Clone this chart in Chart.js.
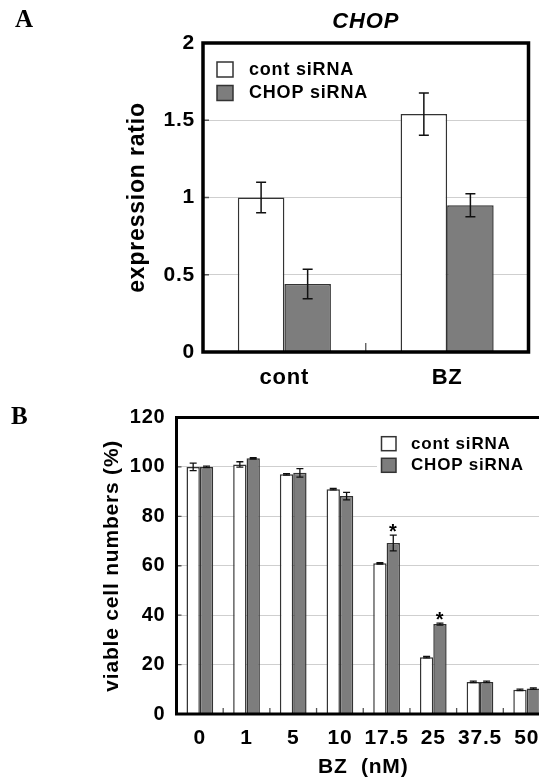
<!DOCTYPE html>
<html><head><meta charset="utf-8">
<script src="https://cdn.jsdelivr.net/npm/chart.js@4/dist/chart.umd.min.js"></script>
<style>
html,body{margin:0;padding:0;background:#fff;overflow:hidden;width:539px;height:777px;position:relative;}
#wrapA{position:absolute;left:0;top:0;width:539px;height:390px;}
#wrapB{position:absolute;left:0;top:390px;width:560px;height:387px;}
.panel{position:absolute;z-index:5;font-family:'Liberation Serif','Times New Roman',serif;font-weight:bold;font-size:25px;line-height:25px;color:#000;}
</style></head><body>
<div id="wrapA"><canvas id="cA" width="539" height="390"></canvas></div>
<div id="wrapB"><canvas id="cB" width="560" height="387"></canvas></div>
<div class="panel" style="left:15px;top:6px">A</div>
<div class="panel" style="left:11px;top:403px">B</div>
<script>
// ---- Data ----
const seriesNames = ['cont siRNA', 'CHOP siRNA'];

const catsA = ['cont', 'BZ'];
const contA = [1.0, 1.54];
const contAErr = [0.098, 0.137];
const chopA = [0.44, 0.95];
const chopAErr = [0.095, 0.075];
const yTicksA = ['0', '0.5', '1', '1.5', '2'];
const titleA = 'CHOP';
const yTitleA = 'expression ratio';

const catsB = ['0', '1', '5', '10', '17.5', '25', '37.5', '50'];
const contB = [100, 101, 97, 91, 61, 23, 13, 9.8];
const contBErr = [1.5, 1.1, 0.3, 0.3, 0.3, 0.3, 0.3, 0.3];
const chopB = [100, 103.5, 97.6, 88.2, 69.2, 36.4, 13, 10.3];
const chopBErr = [0.3, 0.3, 1.7, 1.5, 3.2, 0.4, 0.3, 0.3];
const sigB = ['', '', '', '', '*', '*', '', ''];
const yTicksB = ['0', '20', '40', '60', '80', '100', '120'];
const yTitleB = 'viable cell numbers (%)';
const xTitleB = 'BZ  (nM)';

// ---- Styles ----
const FAM = "'Liberation Sans', Arial, Helvetica, sans-serif";
const WHITE = '#ffffff', GRAY = '#7d7d7d', EDGE = '#333333';

// ---- Plugins ----
const wideText = {
  id: 'wideText',
  beforeUpdate(chart, args, o) { chart.ctx.letterSpacing = o.spacing; },
  beforeDraw(chart, args, o) { chart.ctx.letterSpacing = o.spacing; }
};

const errorBars = {
  id: 'errorBars',
  afterDatasetsDraw(chart, args, o) {
    const ctx = chart.ctx, ys = chart.scales.y;
    chart.data.datasets.forEach((ds, i) => {
      if (!ds.errors) return;
      const meta = chart.getDatasetMeta(i);
      meta.data.forEach((el, j) => {
        const v = ds.data[j], e = ds.errors[j];
        const x = el.x, t = ys.getPixelForValue(v + e), b = ys.getPixelForValue(v - e);
        ctx.save();
        ctx.strokeStyle = '#111'; ctx.lineWidth = o.width;
        ctx.beginPath();
        ctx.moveTo(x, t); ctx.lineTo(x, b);
        ctx.moveTo(x - o.cap / 2, t); ctx.lineTo(x + o.cap / 2, t);
        ctx.moveTo(x - o.cap / 2, b); ctx.lineTo(x + o.cap / 2, b);
        ctx.stroke();
        if (ds.marks && ds.marks[j]) {
          ctx.fillStyle = '#000';
          ctx.font = 'bold ' + o.markSize + 'px ' + FAM;
          ctx.textAlign = 'center'; ctx.textBaseline = 'alphabetic';
          ctx.fillText(ds.marks[j], x, t + o.markOffset);
        }
        ctx.restore();
      });
    });
  }
};

const innerLegend = {
  id: 'innerLegend',
  afterDatasetsDraw(chart, args, o) {
    const ctx = chart.ctx;
    ctx.save();
    if (o.bg) { ctx.fillStyle = '#fff'; ctx.fillRect(o.bg[0], o.bg[1], o.bg[2], o.bg[3]); }
    ctx.font = 'bold ' + o.fontSize + 'px ' + FAM;
    ctx.textAlign = 'left'; ctx.textBaseline = 'middle';
    chart.data.datasets.forEach((ds, i) => {
      const top = o.y + i * o.step;
      ctx.fillStyle = ds.backgroundColor;
      ctx.fillRect(o.x, top, o.bw, o.bh);
      ctx.lineWidth = 1.5; ctx.strokeStyle = EDGE;
      ctx.strokeRect(o.x, top, o.bw, o.bh);
      ctx.fillStyle = '#000';
      ctx.fillText(ds.label, o.tx, top + o.bh / 2 + 0.5);
    });
    ctx.restore();
  }
};

const innerTicks = {
  id: 'innerTicks',
  afterDatasetsDraw(chart, args, o) {
    const ctx = chart.ctx, a = chart.chartArea, xs = chart.scales.x, ys = chart.scales.y;
    ctx.save();
    ctx.strokeStyle = '#555'; ctx.lineWidth = 1.3;
    ctx.beginPath();
    const n = xs.ticks.length;
    for (let k = 1; k < n; k++) {
      const px = (xs.getPixelForTick(k - 1) + xs.getPixelForTick(k)) / 2;
      ctx.moveTo(px, a.bottom); ctx.lineTo(px, a.bottom - o.xLen);
    }
    ys.ticks.forEach((t, k) => {
      const py = ys.getPixelForTick(k);
      ctx.moveTo(a.left, py); ctx.lineTo(a.left + o.yLen, py);
    });
    ctx.stroke();
    ctx.restore();
  }
};

const frame = {
  id: 'frame',
  afterDraw(chart, args, o) {
    const ctx = chart.ctx, a = chart.chartArea;
    ctx.save();
    ctx.lineWidth = o.width; ctx.strokeStyle = '#000';
    ctx.strokeRect(a.left, a.top, a.right - a.left, a.bottom - a.top);
    ctx.restore();
  }
};

Chart.defaults.font.family = FAM;
Chart.defaults.color = '#000';

// ---- Chart A ----
new Chart(document.getElementById('cA'), {
  type: 'bar',
  data: {
    labels: catsA,
    datasets: [
      { label: seriesNames[0], data: contA, errors: contAErr, backgroundColor: WHITE, borderColor: EDGE, borderWidth: 1.5 },
      { label: seriesNames[1], data: chopA, errors: chopAErr, backgroundColor: GRAY, borderColor: EDGE, borderWidth: 1.5 }
    ]
  },
  options: {
    responsive: false, animation: false,
    layout: { padding: { left: 124, right: 10.5, top: 0, bottom: 0 } },
    datasets: { bar: { categoryPercentage: 0.572, barPercentage: 1.0 } },
    scales: {
      x: {
        grid: { display: false }, border: { display: false },
        ticks: { font: { size: 22, weight: 'bold' }, padding: 5, color: '#000' },
        afterFit(s) { s.height = 38; }
      },
      y: {
        min: 0, max: 2,
        grid: { color: '#cfcfcf', lineWidth: 1, drawTicks: false }, border: { display: false },
        ticks: { stepSize: 0.5, font: { size: 21, weight: 'bold' }, padding: 8, color: '#000',
                 callback: (v, i) => yTicksA[i] },
        title: { display: true, text: yTitleA, font: { size: 23, weight: 'bold' }, padding: 0, color: '#000' },
        afterFit(s) { s.width = 79; }
      }
    },
    plugins: {
      legend: { display: false }, tooltip: { enabled: false },
      title: { display: true, text: titleA, fullSize: false, font: { size: 22, weight: 'bold', style: 'italic' },
               padding: { top: 9, bottom: 7.6 }, color: '#000' },
      wideText: { spacing: '0.8px' },
      errorBars: { width: 1.5, cap: 10, markSize: 20, markOffset: 1 },
      innerLegend: { x: 217, y: 62, bw: 16, bh: 15, step: 23.5, tx: 249, fontSize: 18 },
      innerTicks: { xLen: 9, yLen: 6 },
      frame: { width: 3.5 }
    }
  },
  plugins: [wideText, errorBars, innerLegend, innerTicks, frame]
});

// ---- Chart B ----
new Chart(document.getElementById('cB'), {
  type: 'bar',
  data: {
    labels: catsB,
    datasets: [
      { label: seriesNames[0], data: contB, errors: contBErr, backgroundColor: WHITE, borderColor: EDGE, borderWidth: 1.5 },
      { label: seriesNames[1], data: chopB, errors: chopBErr, marks: sigB, backgroundColor: GRAY, borderColor: EDGE, borderWidth: 1.5 }
    ]
  },
  options: {
    responsive: false, animation: false,
    layout: { padding: { left: 100, right: 10, top: 27.5, bottom: 0 } },
    datasets: { bar: { categoryPercentage: 0.572, barPercentage: 1.0 } },
    scales: {
      x: {
        grid: { display: false }, border: { display: false },
        ticks: { font: { size: 21, weight: 'bold' }, padding: 4, color: '#000', maxRotation: 0, autoSkip: false },
        title: { display: true, text: xTitleB, font: { size: 21, weight: 'bold' }, padding: { top: 0, bottom: -3 }, color: '#000' },
        afterFit(s) { s.height = 63; }
      },
      y: {
        min: 0, max: 120,
        grid: { color: '#cfcfcf', lineWidth: 1, drawTicks: false }, border: { display: false },
        ticks: { stepSize: 20, font: { size: 20, weight: 'bold' }, padding: 11, color: '#000',
                 callback: (v, i) => yTicksB[i] },
        title: { display: true, text: yTitleB, font: { size: 21, weight: 'bold' }, padding: 0, color: '#000' },
        afterFit(s) { s.width = 76.5; }
      }
    },
    plugins: {
      legend: { display: false }, tooltip: { enabled: false },
      wideText: { spacing: '0.8px' },
      errorBars: { width: 1.3, cap: 7, markSize: 20, markOffset: 3 },
      innerLegend: { x: 381.5, y: 46.7, bw: 14.5, bh: 14, step: 21.6, tx: 411, fontSize: 17, bg: [377, 40, 183, 44] },
      innerTicks: { xLen: 6, yLen: 5 },
      frame: { width: 3 }
    }
  },
  plugins: [wideText, errorBars, innerLegend, innerTicks, frame]
});
</script>
</body></html>
